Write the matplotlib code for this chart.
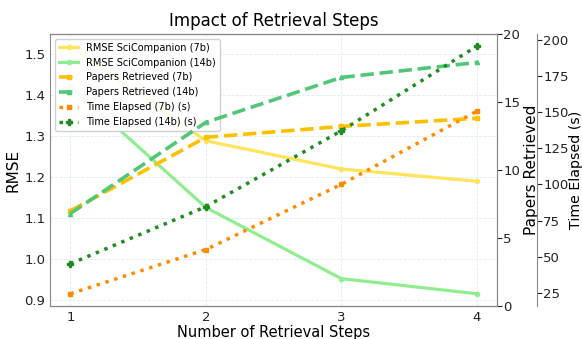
import matplotlib
matplotlib.use("Agg")
import matplotlib.pyplot as plt

steps = [1, 2, 3, 4]
rmse_7b = [1.52, 1.289, 1.22, 1.19]
rmse_14b = [1.424, 1.126, 0.952, 0.915]
papers_7b = [7.0, 12.4, 13.2, 13.8]
papers_14b = [6.8, 13.5, 16.8, 17.9]
time_7b = [24.5, 55.0, 100.0, 150.5]
time_14b = [45.2, 84.6, 137.0, 195.4]
papers_ticks = [0, 5, 10, 15, 20]

fig = plt.figure(figsize=(5.82, 3.39), dpi=100)
ax = fig.add_axes([0.086, 0.097, 0.768, 0.803])
ax2 = ax.twinx()
ax3 = ax.twinx()
ax3.spines["right"].set_position(("outward", 28.8))

l1, = ax.plot(steps, rmse_7b, color="#FFE45C", lw=2.3, marker="o", ms=3,
              label="RMSE SciCompanion (7b)")
l2, = ax.plot(steps, rmse_14b, color="#90EE90", lw=2.3, marker="o", ms=3,
              label="RMSE SciCompanion (14b)")
l3, = ax2.plot(steps, papers_7b, color="#FFC000", lw=2.6, ls="--", marker="s", ms=3,
               label="Papers Retrieved (7b)")
l4, = ax2.plot(steps, papers_14b, color="#50C878", lw=2.6, ls="--", marker="^", ms=3,
               label="Papers Retrieved (14b)")
l5, = ax3.plot(steps, time_7b, color="#FF8C00", lw=2.5, ls=":", marker="s", ms=3,
               label="Time Elapsed (7b) (s)")
l6, = ax3.plot(steps, time_14b, color="#228B22", lw=2.5, ls=":", marker="P", ms=4,
               label="Time Elapsed (14b) (s)")

ax2.set_ylim(papers_ticks[0], papers_ticks[-1])
ax2.set_yticks(papers_ticks)
ax.set_xticks(steps)

ax.grid(True, ls="--", lw=0.6, color="#dcebf2")
for a in (ax, ax2, ax3):
    for s in a.spines.values():
        s.set_color("#888888")
ax.tick_params(labelsize=9.5, colors="#222222", length=0, pad=3.5)
for a in (ax2, ax3):
    a.tick_params(labelsize=9.5, colors="#222222", length=3.5, pad=1)
ax2.spines["left"].set_visible(False)
ax3.spines["left"].set_visible(False)

ax.set_xlabel("Number of Retrieval Steps", fontsize=10.5, labelpad=1)
ax.set_ylabel("RMSE", fontsize=11, labelpad=2.5)
ax2.set_ylabel("Papers Retrieved", fontsize=11, labelpad=2.5)
ax3.set_ylabel("Time Elapsed (s)", fontsize=10.2, labelpad=0)
ax.set_title("Impact of Retrieval Steps", fontsize=12, pad=6)

ax.legend(handles=[l1, l2, l3, l4, l5, l6], loc="upper left", fontsize=7,
          framealpha=0.9)

fig.savefig("out.png", dpi=100)
